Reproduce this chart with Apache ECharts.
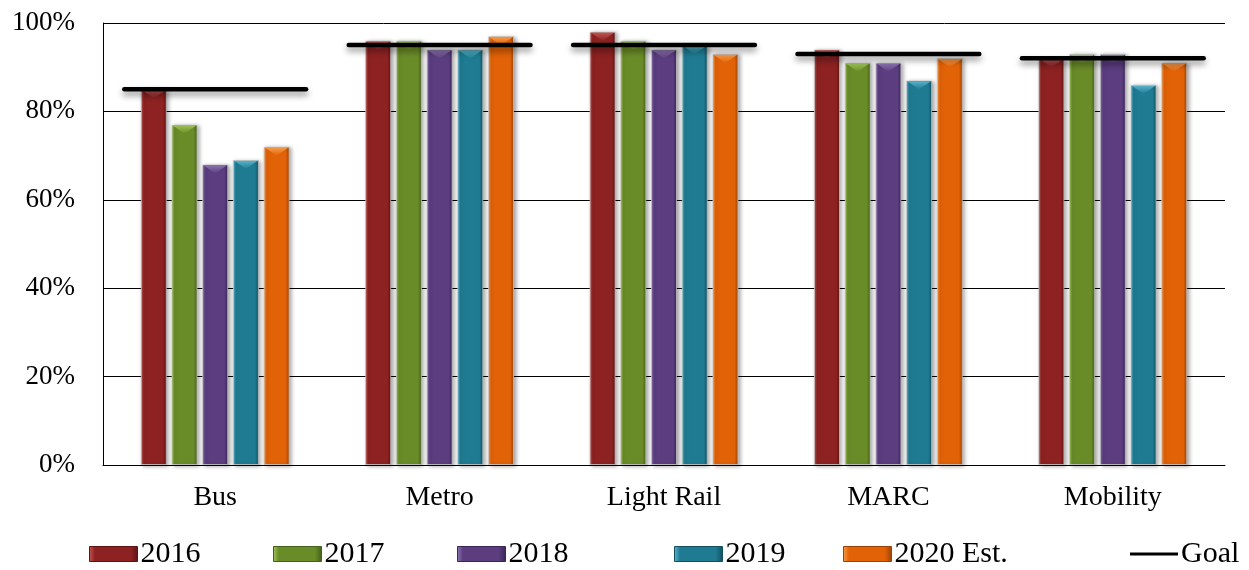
<!DOCTYPE html>
<html>
<head>
<meta charset="utf-8">
<title>On-Time Performance by Mode</title>
<script src="https://cdn.jsdelivr.net/npm/echarts@6/dist/echarts.min.js"></script>
<style>
  html, body { margin: 0; padding: 0; background: #ffffff; }
  #chart { width: 1249px; height: 570px; }
</style>
</head>
<body>
<div id="chart"></div>
<script>
// Service modes along the x axis
const modes = ['Bus', 'Metro', 'Light Rail', 'MARC', 'Mobility'];

// On-time performance (%) by year
const y2016 = [85, 96, 98, 94, 92];
const y2017 = [77, 96, 96, 91, 93];
const y2018 = [68, 94, 94, 91, 93];
const y2019 = [69, 94, 95, 87, 86];
const y2020est = [72, 97, 93, 92, 91];

// Performance goal per mode (%)
const goals = [85, 95, 95, 93, 92];

// Percentage axis ticks
const yTicks = [0, 20, 40, 60, 80, 100];

const FONT = 'Liberation Serif, "Times New Roman", serif';
const BAR_W = 26;
const BAR_GAP = 4.7;

// Bevel-like horizontal shading for each bar colour
function shade(dark, mid, light) {
  return new echarts.graphic.LinearGradient(0, 0, 1, 0, [
    { offset: 0, color: light },
    { offset: 0.12, color: mid },
    { offset: 0.85, color: mid },
    { offset: 1, color: dark }
  ]);
}

const yearStyles = [
  { name: '2016', values: y2016, dark: '#5e1414', mid: '#8e2222', light: '#c25a57' },
  { name: '2017', values: y2017, dark: '#44601a', mid: '#6a8c28', light: '#a3c65a' },
  { name: '2018', values: y2018, dark: '#3a2656', mid: '#5b3d80', light: '#9178b3' },
  { name: '2019', values: y2019, dark: '#134f5e', mid: '#1f7b92', light: '#5cb8d0' },
  { name: '2020 Est.', values: y2020est, dark: '#9a4205', mid: '#e26208', light: '#f9a050' }
];

function barSeries(ys) {
  return {
    name: ys.name,
    type: 'bar',
    data: ys.values,
    barWidth: BAR_W,
    barGap: (BAR_GAP / BAR_W * 100).toFixed(1) + '%',
    itemStyle: {
      color: shade(ys.dark, ys.mid, ys.light),
      borderColor: 'rgba(200,200,200,0.7)',
      borderWidth: 1,
      shadowColor: 'rgba(0,0,0,0.35)',
      shadowBlur: 4,
      shadowOffsetX: 2,
      shadowOffsetY: 1
    },
    emphasis: { disabled: true },
    z: 2
  };
}

// Bevel highlight: a small light chevron on top of every bar
const bevelSeries = {
  name: 'bevel',
  type: 'custom',
  data: modes.map((m, i) => [i].concat(yearStyles.map(ys => ys.values[i]))),
  encode: { x: 0, y: 1 },
  silent: true,
  z: 3,
  renderItem: function (params, api) {
    const idx = api.value(0);
    const children = [];
    yearStyles.forEach((ys, k) => {
      const top = api.coord([idx, api.value(k + 1)]);
      const cx = top[0] + (k - 2) * (BAR_W + BAR_GAP);
      const half = BAR_W / 2 - 1.5;
      children.push({
        type: 'polygon',
        shape: { points: [[cx - half, top[1] + 1], [cx + half, top[1] + 1], [cx, top[1] + 9]] },
        style: {
          fill: new echarts.graphic.LinearGradient(0, 0, 0, 1, [
            { offset: 0, color: ys.light },
            { offset: 1, color: ys.mid }
          ]),
          opacity: 0.9
        }
      });
    });
    return { type: 'group', children: children };
  }
};

// Goal marker: a thick rounded line across each mode's bar group
const goalSeries = {
  name: 'Goal',
  type: 'custom',
  data: goals.map((g, i) => [i, g]),
  encode: { x: 0, y: 1 },
  z: 5,
  renderItem: function (params, api) {
    const c = api.coord([api.value(0), api.value(1)]);
    const w = api.size([1, 0])[0] * 0.81;
    return {
      type: 'line',
      shape: { x1: c[0] - w / 2, y1: c[1], x2: c[0] + w / 2, y2: c[1] },
      style: {
        stroke: '#000000',
        lineWidth: 4.5,
        lineCap: 'round',
        shadowColor: 'rgba(0,0,0,0.45)',
        shadowBlur: 6,
        shadowOffsetY: 4
      }
    };
  },
  itemStyle: { color: '#000000' }
};

// One legend block per entry so each sits at its own spot along the bottom
const legendSpots = [
  { name: '2016', left: 89 },
  { name: '2017', left: 273 },
  { name: '2018', left: 457 },
  { name: '2019', left: 674 },
  { name: '2020 Est.', left: 843 },
  { name: 'Goal', left: 1130 }
];

const legends = legendSpots.map(s => {
  const isGoal = s.name === 'Goal';
  const ys = yearStyles.find(y => y.name === s.name);
  return {
    data: [s.name],
    left: s.left,
    top: 539,
    orient: 'horizontal',
    icon: 'rect',
    itemWidth: 48,
    itemHeight: isGoal ? 3 : 15,
    selectedMode: false,
    textStyle: { fontFamily: FONT, fontSize: 30, color: '#000000', padding: [0, 0, 0, -2] },
    itemStyle: isGoal
      ? { color: '#000000' }
      : { color: shade(ys.dark, ys.mid, ys.light), borderColor: ys.dark, borderWidth: 1 },
    padding: 0
  };
});

const chart = echarts.init(document.getElementById('chart'), null, { renderer: 'canvas' });

chart.setOption({
  backgroundColor: '#ffffff',
  animation: false,
  grid: { left: 103, right: 24, top: 23, bottom: 105, containLabel: false },
  legend: legends,
  xAxis: {
    type: 'category',
    data: modes,
    axisLine: { show: true, lineStyle: { color: '#000000', width: 1 } },
    axisTick: { show: false },
    axisLabel: { fontFamily: FONT, fontSize: 28, color: '#000000', margin: 19 }
  },
  yAxis: {
    type: 'value',
    min: yTicks[0],
    max: yTicks[yTicks.length - 1],
    interval: yTicks[1] - yTicks[0],
    axisLine: { show: true, lineStyle: { color: '#000000', width: 1 } },
    axisTick: { show: false },
    splitLine: { show: true, lineStyle: { color: '#000000', width: 1 } },
    axisLabel: { fontFamily: FONT, fontSize: 27, color: '#000000', margin: 28, formatter: '{value}%' }
  },
  series: yearStyles.map(barSeries).concat([bevelSeries, goalSeries])
});
</script>
</body>
</html>
